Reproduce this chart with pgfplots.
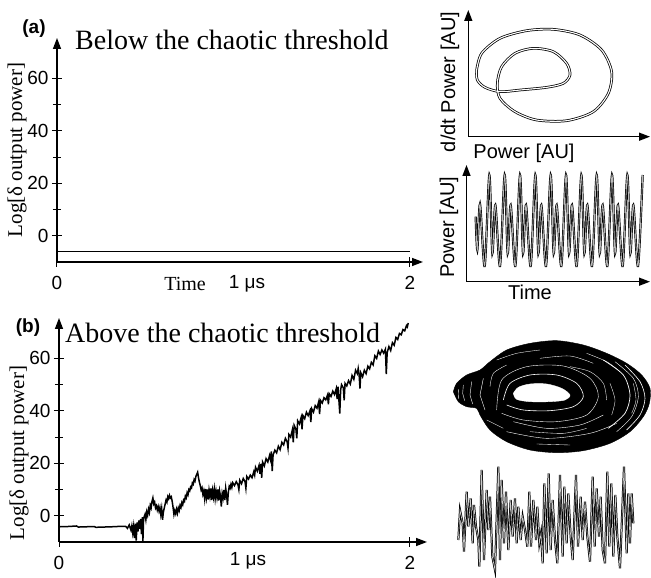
\documentclass[border=0pt]{standalone}
\usepackage{fontspec}
\setmainfont{Liberation Sans}
\newfontfamily\serif{Liberation Serif}
\usepackage{pgfplots}
\pgfplotsset{compat=1.18}
\usetikzlibrary{arrows.meta}

\pgfplotsset{
  mainax/.style={
    scale only axis, axis lines=left, clip=false, anchor=south west,
    axis line style={line width=1.4pt, -{Triangle[length=11pt,width=8pt]}},
    xmin=0, ymin=-10, ymax=75.4,
    xtick={0,2}, xticklabels={0,2},
    ytick={0,20,40,60}, minor ytick={10,30,50},
    tick align=center, major tick length=10pt, minor tick length=8pt,
    tick style={black, line width=1pt},
    tick label style={font=\fontsize{19}{19}\selectfont},
    xticklabel style={yshift=-6pt},
    /pgf/number format/assume math mode=true,
  },
  inax/.style={
    scale only axis, axis lines=left, ticks=none, clip=false, anchor=south west,
    axis line style={line width=1.4pt, -{Triangle[length=11pt,width=8pt]}},
  },
  hidax/.style={scale only axis, hide axis, clip=false, anchor=south west, y dir=reverse},
}

\begin{document}
\begin{tikzpicture}
\useasboundingbox (0,0) rectangle (651pt,578pt);

% (a) main panel
\begin{axis}[mainax, at={(57pt,316pt)}, width=366pt, height=224pt, xmax=2.074]
\addplot[black, line width=1.4pt] coordinates {(0,-6.1)(2,-6.1)};
\end{axis}

% (a) phase portrait
\begin{axis}[inax, at={(468.3pt,441.3pt)}, width=181.7pt, height=126.7pt,
  xmin=145, xmax=690, ymin=-410, ymax=-30]
\addplot[black, line width=0.75pt, double=white, double distance=1.1pt, smooth] coordinates {
  (170,-210)(185,-160)(240,-115)(320,-92)(400,-88)(480,-105)(545,-150)(575,-215)
  (565,-280)(520,-335)(440,-362)(350,-360)(285,-335)(240,-295)(232,-250)(245,-200)
  (285,-160)(340,-145)(400,-155)(440,-190)(450,-225)(430,-250)(380,-262)(300,-270)
  (240,-275)(195,-262)(172,-240)(170,-210)};
\end{axis}

% (a) time series
\begin{axis}[inax, at={(466.5pt,296.3pt)}, width=183.5pt, height=116.7pt,
  xmin=19.5, xmax=570, ymin=-365, ymax=-15]
\addplot[black, line width=0.7pt, double=gray!55, double distance=0.8pt, smooth] coordinates {
  (47,-170)(52,-270)(60,-132)(74,-318)(88,-45)(97,-280)(106,-135)(120,-318)(134,-45)
  (143,-280)(152,-135)(166,-318)(180,-45)(189,-280)(198,-135)(212,-318)(226,-45)
  (235,-280)(244,-135)(258,-318)(272,-45)(281,-280)(290,-135)(304,-318)(318,-45)
  (327,-280)(336,-135)(350,-318)(364,-45)(373,-280)(382,-135)(396,-318)(410,-45)
  (419,-280)(428,-135)(442,-318)(456,-45)(465,-280)(474,-135)(488,-318)(502,-45)
  (511,-280)(520,-135)(534,-318)(548,-45)};
\end{axis}

% (b) main panel
\begin{axis}[mainax, at={(59pt,36pt)}, width=368pt, height=224pt, xmax=2.097]
\addplot[black, line width=1.5pt] coordinates {
  (0,-4.2)(0.05,-4.1)(0.1,-3.9)(0.11,-4.3)(0.2,-4.1)(0.21,-4.4)(0.3,-4.2)(0.36,-4.0)
  (0.38,-4.0)(0.39,-4.8)(0.40,-3.5)(0.41,-5.5)(0.415,-3.8)(0.42,-6.5)(0.425,-4)(0.43,-8.5)
  (0.435,-3)(0.44,-9.5)(0.445,-2.5)(0.45,-6)(0.455,-1.8)(0.46,-5)(0.465,-1.2)(0.47,-7)
  (0.475,-0.5)(0.478,-10)(0.482,-1)(0.49,0.5)(0.495,-1.5)(0.50,1.5)(0.505,0.2)(0.51,2.5)
  (0.515,1.2)(0.52,4)(0.525,3)(0.53,5.5)(0.535,6.8)(0.54,4.5)(0.545,5.2)(0.55,3)
  (0.555,3.8)(0.56,2.2)(0.565,3.5)(0.57,1.8)(0.575,3.2)(0.58,0.5)(0.585,2.8)(0.59,-1.5)
  (0.595,1.5)(0.60,3)(0.605,4.5)(0.61,6)(0.615,5.2)(0.62,7.3)(0.625,6.5)(0.63,7.8)
  (0.635,6.8)(0.64,7.2)(0.645,5.5)(0.65,3.2)(0.655,0.5)(0.66,2)(0.665,0.8)(0.67,2.5)
  (0.675,1)(0.68,3)(0.685,2)(0.69,4)(0.695,3.2)(0.70,5)(0.705,4.2)(0.71,6)(0.715,5.5)
  (0.72,7.5)(0.725,6.8)(0.73,8.8)(0.735,8)(0.74,10)(0.745,9.5)(0.75,11)(0.755,10.6)
  (0.76,12.5)(0.765,12)(0.77,13.8)(0.775,13.2)(0.78,15)(0.785,15.8)(0.79,16.6)(0.795,14.5)
  (0.80,12.8)(0.805,11.5)(0.81,9.8)(0.815,10.6)(0.82,8.2)(0.825,9.5)(0.83,6.5)(0.835,10.2)
  (0.84,7)(0.845,10)(0.85,6.2)(0.855,9.8)(0.86,7.5)(0.865,10.4)(0.87,6)(0.875,9.6)
  (0.88,7.2)(0.885,10.2)(0.89,6.5)(0.895,9.4)(0.90,7)(0.905,10)(0.91,5.8)(0.915,9.5)
  (0.92,7.5)(0.925,3.5)(0.93,8.5)(0.935,6.8)(0.94,9.8)(0.945,6)(0.95,10.5)(0.955,8)
  (0.96,4.2)(0.965,9)(0.97,11.2)(0.975,10.5)(0.98,12)(0.985,10.8)(0.99,12.6)(1.0,11.5)
  (1.01,13)(1.02,11.8)(1.025,10)(1.03,13.5)(1.04,12.2)(1.05,14.2)(1.06,13)(1.065,10.5)
  (1.07,15)(1.08,14)(1.09,15.5)(1.10,14.5)(1.11,16.8)(1.115,15.5)(1.12,18.5)(1.13,17)
  (1.14,19.2)(1.145,16)(1.15,19.8)(1.155,14.5)(1.16,20.5)(1.17,19)(1.18,21.8)(1.19,20.5)
  (1.20,23)(1.205,21.5)(1.21,24.5)(1.215,17)(1.22,23.2)(1.23,25)(1.24,24)(1.25,26.5)
  (1.26,25.2)(1.27,28)(1.28,27)(1.29,29.5)(1.30,28.2)(1.305,25.8)(1.31,31)(1.32,30)
  (1.33,32.8)(1.335,28)(1.34,34.5)(1.35,33)(1.355,29.5)(1.36,36.2)(1.37,35)(1.38,37.5)
  (1.385,33)(1.39,38.2)(1.40,37)(1.41,39.5)(1.42,38.2)(1.43,40)(1.435,35.7)(1.44,40.8)
  (1.45,39.5)(1.46,42)(1.47,41)(1.48,43.5)(1.485,38.8)(1.49,44)(1.50,43)(1.51,45)
  (1.52,44.2)(1.53,46)(1.535,42.5)(1.54,46.5)(1.55,45.5)(1.56,47.5)(1.57,46.2)(1.58,48.5)
  (1.585,44.5)(1.59,49.2)(1.60,39)(1.605,48)(1.61,50)(1.62,48.8)(1.625,44)(1.63,50.5)
  (1.64,49.5)(1.65,51.5)(1.66,50.2)(1.67,53.5)(1.68,52)(1.69,55.5)(1.70,54.2)(1.705,56.2)
  (1.71,54)(1.715,48.5)(1.72,54.5)(1.73,53)(1.74,55.5)(1.75,54.2)(1.76,57)(1.77,56)
  (1.78,58.5)(1.79,57.5)(1.80,61)(1.81,60)(1.82,62.8)(1.83,61.5)(1.84,63.2)(1.85,62)
  (1.86,63.5)(1.865,54)(1.87,62.2)(1.88,64.5)(1.89,63)(1.90,66)(1.91,65)(1.92,68)
  (1.93,67.2)(1.94,69.5)(1.95,69)(1.96,71)(1.97,70.5)(1.98,72.5)(1.985,72)(1.99,73.5)};
\end{axis}

% (b) attractor
\begin{axis}[hidax, at={(430pt,0pt)}, width=221pt, height=278pt,
  xmin=0, xmax=663, ymin=0, ymax=834]
\addplot[fill=black, draw=black, smooth] coordinates {
  (70,275)(80,250)(110,225)(150,210)(180,185)(230,150)(300,130)(380,122)(460,135)
  (530,160)(590,190)(635,225)(660,265)(658,310)(640,350)(600,395)(540,430)(460,452)
  (380,458)(300,450)(230,425)(180,390)(150,345)(140,325)(110,320)(85,305)(70,275)} -- cycle;
\addplot[white, line width=0.6pt, smooth] coordinates {
  (220,300)(240,250)(300,225)(380,225)(440,250)(460,290)(430,320)(360,332)(280,330)(230,315)};
\addplot[white, line width=0.4pt, smooth] coordinates {
  (200,330)(215,240)(290,200)(400,198)(480,235)(505,290)(470,345)(380,365)(280,360)(215,340)};
\addplot[white, line width=0.7pt, smooth] coordinates {(520,180)(580,225)(600,285)(585,340)(535,385)};
\addplot[white, line width=0.4pt, smooth] coordinates {(555,185)(610,235)(625,290)(605,350)(560,395)};
\addplot[white, line width=0.6pt, smooth] coordinates {(585,195)(630,245)(645,295)(630,345)(590,390)};
\addplot[white, line width=0.4pt, smooth] coordinates {(250,365)(350,385)(450,375)(520,345)};
\addplot[white, line width=0.4pt, smooth] coordinates {(230,395)(350,415)(480,400)(560,370)};
\addplot[white, line width=0.35pt, smooth] coordinates {(330,175)(420,168)(490,190)};
\addplot[white, line width=0.35pt, smooth] coordinates {(200,180)(260,160)(330,150)};
\addplot[white, line width=0.35pt, smooth] coordinates {(470,160)(530,185)(570,215)};
\addplot[white, line width=0.35pt, smooth] coordinates {(180,260)(190,220)(230,195)};
\addplot[white, line width=0.35pt, smooth] coordinates {(420,200)(480,215)(520,250)(530,300)};
\addplot[white, line width=0.35pt, smooth] coordinates {(300,395)(400,400)(470,385)};
\addplot[white, line width=0.35pt, smooth] coordinates {(320,432)(420,435)};
\addplot[white, line width=0.35pt, smooth] coordinates {(540,250)(555,300)(545,345)};
\addplot[white, line width=0.35pt, smooth] coordinates {(610,250)(618,300)(605,340)};
\addplot[white, line width=0.35pt, smooth] coordinates {(170,360)(220,385)};
\addplot[white, line width=0.4pt] coordinates {(100,255)(98,280)(104,302)};
\addplot[white, line width=0.4pt] coordinates {(125,245)(120,285)(128,312)};
\addplot[white, line width=0.4pt] coordinates {(160,235)(150,285)(165,330)};
\addplot[white, line width=0.4pt] coordinates {(85,268)(86,296)};
\addplot[white, fill=white, smooth] coordinates {
  (250,280)(265,262)(300,252)(350,252)(395,265)(420,285)(405,300)(360,305)(300,305)(260,298)(250,280)} -- cycle;
\end{axis}

% (b) time series
\begin{axis}[hidax, at={(450pt,0pt)}, width=201pt, height=118pt,
  xmin=0, xmax=603, ymin=0, ymax=354]
\addplot[black, line width=0.75pt, double=gray!40, double distance=0.6pt] coordinates {
  (25,240)(30,150)(38,190)(42,275)(50,95)(55,200)(62,115)(68,250)(72,135)(78,200)
  (85,240)(88,320)(95,30)(102,300)(110,90)(115,210)(120,110)(127,290)(135,330)(145,20)
  (150,300)(155,60)(162,250)(168,95)(175,270)(182,120)(188,230)(195,115)(200,250)
  (205,140)(212,240)(218,170)(225,210)(232,260)(238,95)(243,260)(250,120)(258,240)
  (262,140)(268,250)(273,220)(278,310)(283,70)(290,280)(296,40)(302,270)(308,120)
  (315,240)(322,310)(330,45)(338,290)(343,80)(350,250)(355,100)(362,230)(368,300)
  (378,45)(384,260)(392,110)(398,240)(405,125)(412,230)(420,305)(428,50)(434,260)
  (440,85)(447,230)(452,110)(458,270)(465,310)(472,35)(478,260)(484,70)(490,290)
  (496,105)(502,230)(510,325)(522,20)(530,280)(535,100)(540,250)(545,100)(550,190)};
\end{axis}

% labels
\node[font=\bfseries\fontsize{19}{19}\selectfont] at (34pt,549pt) {(a)};
\node[font=\bfseries\fontsize{19}{19}\selectfont] at (28pt,250pt) {(b)};
\node[anchor=west, inner sep=0, font=\serif\fontsize{28}{28}\selectfont] at (75pt,538pt) {Below the chaotic threshold};
\node[anchor=west, inner sep=0, font=\serif\fontsize{28}{28}\selectfont] at (65pt,245pt) {Above the chaotic threshold};
\node[rotate=90, font=\serif\fontsize{21}{21}\selectfont] at (17pt,428pt) {Log[δ output power]};
\node[rotate=90, font=\serif\fontsize{21}{21}\selectfont] at (19pt,125pt) {Log[δ output power]};
\node[font=\serif\fontsize{20}{20}\selectfont] at (185pt,294pt) {Time};
\node[font=\fontsize{19}{19}\selectfont] at (247pt,294pt) {1 μs};
\node[font=\fontsize{19}{19}\selectfont] at (248pt,17pt) {1 μs};
\node[rotate=90, font=\fontsize{20}{20}\selectfont] at (450pt,496pt) {d/dt Power [AU]};
\node[font=\fontsize{20}{20}\selectfont] at (524pt,425pt) {Power [AU]};
\node[rotate=90, font=\fontsize{20}{20}\selectfont] at (449pt,351pt) {Power [AU]};
\node[font=\fontsize{20}{20}\selectfont] at (530pt,286pt) {Time};
\end{tikzpicture}
\end{document}
